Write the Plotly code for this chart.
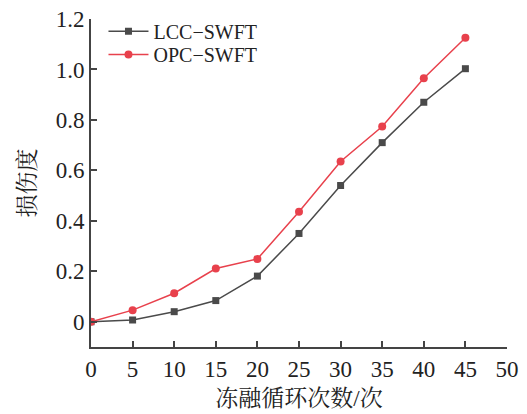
import plotly.graph_objects as go

cycles = [0, 5, 10, 15, 20, 25, 30, 35, 40, 45]
lcc = [0.0, 0.007, 0.04, 0.084, 0.181, 0.35, 0.54, 0.71, 0.87, 1.003]
opc = [0.0, 0.046, 0.113, 0.211, 0.249, 0.436, 0.635, 0.774, 0.965, 1.126]
x_ticks = [0, 5, 10, 15, 20, 25, 30, 35, 40, 45, 50]
y_ticks = [0, 0.2, 0.4, 0.6, 0.8, 1.0, 1.2]
y_labels = ["0", "0.2", "0.4", "0.6", "0.8", "1.0", "1.2"]

font = "Liberation Serif, Times New Roman, Noto Serif CJK SC, Noto Sans CJK SC, serif"

fig = go.Figure()
fig.add_trace(go.Scatter(x=cycles, y=lcc, mode="lines+markers", name="LCC−SWFT",
                         line=dict(color="#4a4a4a", width=1.5),
                         marker=dict(symbol="square", size=7, color="#4a4a4a"),
                         legend="legend"))
fig.add_trace(go.Scatter(x=cycles, y=opc, mode="lines+markers", name="OPC−SWFT",
                         line=dict(color="#e8414c", width=1.5),
                         marker=dict(symbol="circle", size=8, color="#e8414c"),
                         legend="legend2"))

axis_common = dict(showline=True, linecolor="#444444", linewidth=2, ticks="inside",
                   ticklen=6, tickcolor="#444444", tickwidth=1.5, showgrid=False,
                   zeroline=False, tickfont=dict(family=font, size=23, color="#222222"),
                   mirror=False, automargin=False)

leg_common = dict(xanchor="left", yanchor="middle", bgcolor="rgba(0,0,0,0)",
                  font=dict(family=font, size=20, color="#222222"), itemwidth=40,
                  borderwidth=0)

fig.update_layout(
    width=527, height=414, plot_bgcolor="white", paper_bgcolor="white",
    margin=dict(l=91, r=20, t=16, b=67),
    font=dict(family=font, color="#222222"),
    xaxis=dict(range=[0, 50], tickvals=x_ticks, **axis_common,
               title=dict(text="冻融循环次数/次", font=dict(size=23, family=font), standoff=9)),
    yaxis=dict(range=[-0.1, 1.2], tickvals=y_ticks, ticktext=y_labels, **axis_common,
               title=dict(text="损伤度", font=dict(size=23, family=font), standoff=14)),
    legend=dict(x=0.03, y=0.963, **leg_common),
    legend2=dict(x=0.03, y=0.892, **leg_common),
    showlegend=True,
)

fig.write_html("out.html")
